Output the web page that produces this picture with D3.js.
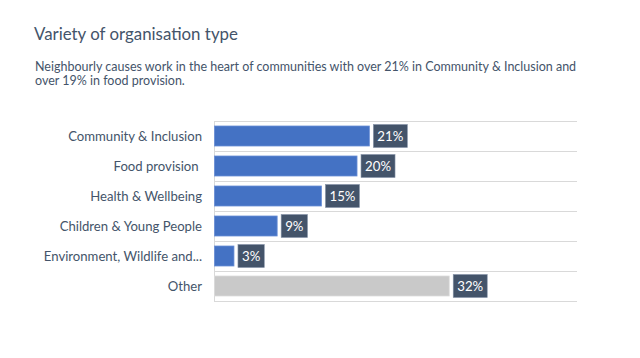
<!DOCTYPE html>
<html>
<head>
<meta charset="utf-8">
<script src="https://cdn.jsdelivr.net/npm/d3@7"></script>
<style>
  html, body { margin: 0; padding: 0; background: #fff; }
  svg { display: block; }
  text { white-space: pre; }
</style>
</head>
<body>
<svg id="chart" width="640" height="358"></svg>
<script>
const categories = ["Community & Inclusion", "Food provision ", "Health & Wellbeing", "Children & Young People", "Environment, Wildlife and...", "Other"];
const values = [21.4, 19.7, 14.8, 8.7, 2.75, 32.4];
const valueLabels = ["21%", "20%", "15%", "9%", "3%", "32%"];
const isOther = [false, false, false, false, false, true];
const titleText = "Variety of organisation type";
const subtitleLines = ["Neighbourly causes work in the heart of communities with over 21% in Community & Inclusion and", "over 19% in food provision."];

const FONT = "Lato, 'Open Sans', sans-serif";
const TXT = "#44546a";
const svg = d3.select("#chart");

function fitSize(text, targetWidth, startSize) {
  const t = svg.append("text").attr("font-family", FONT).attr("font-size", startSize).text(text);
  const w = t.node().getComputedTextLength();
  t.remove();
  return startSize * targetWidth / w;
}

// Title
const titleSize = fitSize(titleText, 204, 20);
svg.append("text").attr("x", 34).attr("y", 40)
  .attr("font-family", FONT).attr("font-size", titleSize).attr("fill", TXT)
  .text(titleText);

// Subtitle
const subSize = fitSize(subtitleLines[0], 542, 13);
svg.append("g").selectAll("text").data(subtitleLines).join("text")
  .attr("x", 35).attr("y", (d, i) => 70.5 + i * 14)
  .attr("font-family", FONT).attr("font-size", subSize).attr("fill", TXT)
  .text(d => d);

// Scales
const x = d3.scaleLinear().domain([0, 50]).range([214, 577]);
const y = d3.scaleBand().domain(categories).range([121, 301]).paddingInner(0).paddingOuter(0);
const barPad = 5;

// Gridlines (band separators)
const sepYs = categories.map(c => y(c)).concat([y.range()[1]]);
svg.append("g").selectAll("line").data(sepYs).join("line")
  .attr("x1", x(0)).attr("x2", x.range()[1])
  .attr("y1", d => d + 0.5).attr("y2", d => d + 0.5)
  .attr("stroke", "#d9d9d9").attr("stroke-width", 1.2);

// Axis line
svg.append("line")
  .attr("x1", x(0) + 0.5).attr("x2", x(0) + 0.5)
  .attr("y1", y.range()[0]).attr("y2", y.range()[1] + 1)
  .attr("stroke", "#d9d9d9").attr("stroke-width", 1);

// Category axis labels
const labSize = fitSize(categories[0], 134, 13);
const yAxis = d3.axisLeft(y).tickSize(0).tickPadding(0);
const ag = svg.append("g").attr("transform", `translate(${202},0)`).call(yAxis);
ag.select(".domain").remove();
ag.selectAll("text")
  .attr("font-family", FONT).attr("font-size", labSize).attr("fill", TXT)
  .attr("dy", "0.35em");

// Bars
const data = categories.map((c, i) => ({ c, v: values[i], lab: valueLabels[i], other: isOther[i] }));
svg.append("g").selectAll("rect").data(data).join("rect")
  .attr("x", x(0) + 0.5)
  .attr("y", d => y(d.c) + barPad)
  .attr("width", d => x(d.v) - x(0) - 0.5)
  .attr("height", y.bandwidth() - 2 * barPad)
  .attr("fill", d => d.other ? "#c9c9c9" : "#4472c4")
  .attr("stroke", d => d.other ? "#dcdcdc" : "#6a8fd6")
  .attr("stroke-width", 0.8);

// Value labels
const valSize = fitSize(valueLabels[0], 26, 14);
const lg = svg.append("g").selectAll("g").data(data).join("g")
  .attr("transform", d => `translate(${x(d.v) + 4},${y(d.c) + y.bandwidth() / 2})`);
lg.each(function (d) {
  const g = d3.select(this);
  const t = g.append("text")
    .attr("font-family", FONT).attr("font-size", valSize).attr("fill", "#ffffff")
    .attr("dy", "0.36em").text(d.lab);
  const w = t.node().getComputedTextLength();
  g.insert("rect", "text")
    .attr("x", 0).attr("y", -11.5).attr("width", w + 8).attr("height", 23)
    .attr("fill", "#44546a").attr("stroke", "#8593a8").attr("stroke-width", 0.6);
  t.attr("x", 4);
});
</script>
</body>
</html>
